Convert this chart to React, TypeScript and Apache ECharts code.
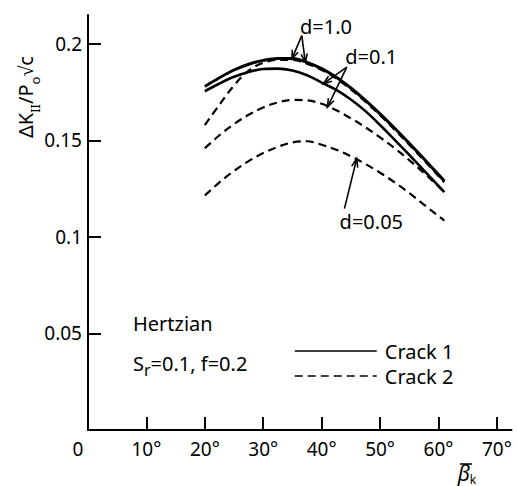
import React, { useEffect, useRef } from 'react';
import * as echarts from 'echarts';

// Angle beta_k (degrees) at which curves are sampled
const angles = [20, 22.5, 25, 27.5, 30, 32.5, 35, 37.5, 40, 42.5, 45, 47.5, 50, 52.5, 55, 57.5, 60, 61];

// Crack 1 (solid)
const crack1D10 = [0.178, 0.1825, 0.1865, 0.1895, 0.1915, 0.1925, 0.1925, 0.1905, 0.1872, 0.1828, 0.1772, 0.1708, 0.1638, 0.1563, 0.1485, 0.1405, 0.1323, 0.129];
const crack1D01 = [0.1755, 0.1795, 0.183, 0.1855, 0.187, 0.1872, 0.1862, 0.1838, 0.18, 0.1762, 0.1712, 0.1652, 0.158, 0.1503, 0.1425, 0.1345, 0.1265, 0.1232];

// Crack 2 (dashed)
const crack2D10 = [0.158, 0.1685, 0.1785, 0.1862, 0.1902, 0.1918, 0.1918, 0.1898, 0.1865, 0.1821, 0.1765, 0.1701, 0.1631, 0.1556, 0.1478, 0.1398, 0.1316, 0.1283];
const crack2D01 = [0.146, 0.1527, 0.1585, 0.1633, 0.1671, 0.1697, 0.171, 0.1708, 0.169, 0.1657, 0.1615, 0.1568, 0.1516, 0.146, 0.1398, 0.1332, 0.1262, 0.1232];
const crack2D005 = [0.1215, 0.1283, 0.1342, 0.1393, 0.1435, 0.1467, 0.149, 0.1496, 0.1478, 0.1452, 0.1418, 0.1378, 0.1333, 0.1283, 0.1228, 0.1168, 0.1108, 0.1085];

const xTicks = [0, 10, 20, 30, 40, 50, 60, 70];
const yTicks = [0.05, 0.1, 0.15, 0.2];

const FONT = 'Noto Sans';

export default function App() {
  const ref = useRef<HTMLDivElement>(null);

  useEffect(() => {
    const chart = echarts.init(ref.current!, undefined, { renderer: 'svg' });

    const mk = (name: string, vals: number[], dashed: boolean, width: number) => ({
      type: 'line',
      name,
      data: angles.map((a, i) => [a, vals[i]]),
      smooth: 0.35,
      symbol: 'none',
      showSymbol: false,
      silent: true,
      lineStyle: { color: '#000', width, type: dashed ? [8, 5] : 'solid', cap: 'butt' },
      itemStyle: { color: '#000' },
    });

    chart.setOption({
      animation: false,
      backgroundColor: '#fff',
      grid: { left: 88, top: 15, right: 6.5, bottom: 56, containLabel: false, outerBoundsMode: 'none' },
      legend: {
        data: ['Crack 1', 'Crack 2'],
        orient: 'vertical',
        left: 294,
        top: 341,
        padding: 0,
        itemWidth: 82,
        itemHeight: 14,
        itemGap: 5,
        selectedMode: false,
        itemStyle: { opacity: 0, borderWidth: 0 },
        lineStyle: { width: 1.5 },
        textStyle: { fontFamily: FONT, fontSize: 20, color: '#000', padding: [0, 0, 0, 3] },
      },
      xAxis: {
        type: 'value',
        min: 0,
        max: 72.5,
        axisLine: { lineStyle: { color: '#000', width: 2 } },
        axisTick: { inside: true, length: 13, lineStyle: { color: '#000', width: 2 }, customValues: xTicks },
        axisLabel: {
          customValues: xTicks,
          fontFamily: FONT,
          fontSize: 19,
          color: '#000',
          margin: 9,
          formatter: (v: number) => (v === 0 ? '{z|0}' : v + '°'),
          rich: { z: { fontFamily: FONT, fontSize: 19, color: '#000', padding: [0, 20, 0, 0] } },
        },
        splitLine: { show: false },
      },
      yAxis: {
        type: 'value',
        min: 0,
        max: 0.215,
        axisLine: { lineStyle: { color: '#000', width: 2 } },
        axisTick: { inside: true, length: 13, lineStyle: { color: '#000', width: 2 }, customValues: yTicks },
        axisLabel: {
          customValues: yTicks,
          fontFamily: FONT,
          fontSize: 19,
          color: '#000',
          margin: 6,
          formatter: (v: number) => String(v),
        },
        splitLine: { show: false },
      },
      series: [
        mk('Crack 1', crack1D10, false, 3),
        mk('Crack 1', crack1D01, false, 2.6),
        mk('Crack 2', crack2D10, true, 2.2),
        mk('Crack 2', crack2D01, true, 2.2),
        mk('Crack 2', crack2D005, true, 2.2),
      ],
    });

    const p = (d: number[]) => chart.convertToPixel({ gridIndex: 0 }, d) as number[];

    const arrow = (tail: number[], tip: number[]) => {
      const [x1, y1] = p(tail);
      const [x2, y2] = p(tip);
      const a = Math.atan2(y2 - y1, x2 - x1);
      const L = 9;
      const s = 0.35;
      return [
        { type: 'line', silent: true, shape: { x1, y1, x2, y2 }, style: { stroke: '#000', lineWidth: 1.6 } },
        {
          type: 'polyline',
          silent: true,
          shape: {
            points: [
              [x2 - L * Math.cos(a - s), y2 - L * Math.sin(a - s)],
              [x2, y2],
              [x2 - L * Math.cos(a + s), y2 - L * Math.sin(a + s)],
            ],
          },
          style: { stroke: '#000', lineWidth: 1.6, fill: 'none' },
        },
      ];
    };

    const label = (pos: number[], text: string, align = 'center', rich?: any) => {
      const [x, y] = p(pos);
      return {
        type: 'text',
        silent: true,
        x,
        y,
        style: {
          text,
          fontFamily: FONT,
          fontSize: 20,
          fill: '#000',
          align,
          verticalAlign: 'middle',
          rich,
        },
      };
    };

    const yTitleRich = {
      m: { fontFamily: FONT, fontSize: 20, lineHeight: 26, verticalAlign: 'top', color: '#000' },
      s: { fontFamily: FONT, fontSize: 13, lineHeight: 13, padding: [13, 0, 0, 0], verticalAlign: 'top', color: '#000' },
    };
    const srRich = {
      m: { fontFamily: FONT, fontSize: 20, lineHeight: 24, verticalAlign: 'top', color: '#000' },
      s: { fontFamily: FONT, fontSize: 16, lineHeight: 16, padding: [9, 0, 0, 0], verticalAlign: 'top', color: '#000' },
    };

    const graphics: any[] = [
      label([40.75, 0.209], 'd=1.0'),
      ...arrow([36.6, 0.2043], [34.9, 0.1923]),
      ...arrow([36.6, 0.2043], [37.2, 0.1905]),
      label([48.5, 0.1935], 'd=0.1'),
      ...arrow([44.3, 0.188], [40.3, 0.1794]),
      ...arrow([44.3, 0.188], [41.0, 0.1673]),
      label([48.5, 0.1081], 'd=0.05'),
      ...arrow([43.9, 0.1147], [46.0, 0.1406]),
      label([7.7, 0.0553], 'Hertzian', 'left'),
      label([7.7, 0.0336], '{m|S}{s|r}{m|=0.1, f=0.2}', 'left', srRich),
      {
        type: 'text',
        silent: true,
        x: 28,
        y: 97,
        rotation: Math.PI / 2,
        style: {
          text: '{m|ΔK}{s|II}{m|/P}{s|o}{m|√c}',
          align: 'center',
          verticalAlign: 'middle',
          fill: '#000',
          rich: yTitleRich,
        },
      },
      {
        type: 'text',
        silent: true,
        x: 467,
        y: 473,
        style: {
          text: '{m|β}{s|k}',
          align: 'center',
          verticalAlign: 'middle',
          fill: '#000',
          rich: {
            m: { fontFamily: FONT, fontSize: 21, fontStyle: 'italic', lineHeight: 22, verticalAlign: 'top', color: '#000' },
            s: { fontFamily: FONT, fontSize: 12, lineHeight: 12, padding: [11, 0, 0, 0], verticalAlign: 'top', color: '#000' },
          },
        },
      },
      { type: 'line', silent: true, shape: { x1: 460, y1: 464, x2: 472, y2: 464 }, style: { stroke: '#000', lineWidth: 1.5 } },
    ];

    chart.setOption({ graphic: graphics });

    return () => chart.dispose();
  }, []);

  return <div ref={ref} style={{ position: 'absolute', left: 0, top: 0, width: 518, height: 486 }} />;
}
